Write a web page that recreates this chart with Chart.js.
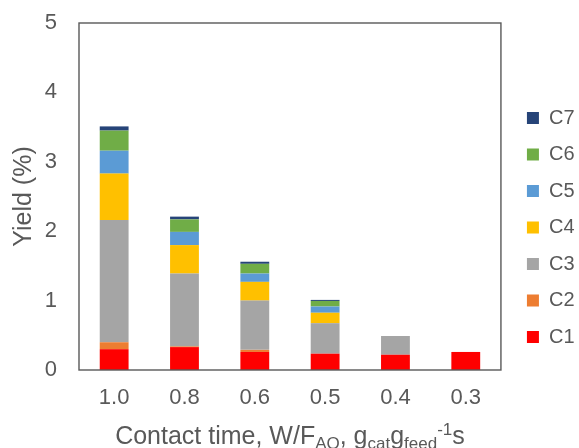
<!DOCTYPE html>
<html>
<head>
<meta charset="utf-8">
<script src="https://cdn.jsdelivr.net/npm/chart.js@4.4.1/dist/chart.umd.min.js"></script>
<style>
  html, body { margin: 0; padding: 0; background: #fff; }
  #wrap { width: 579px; height: 448px; }
</style>
</head>
<body>
<div id="wrap"><canvas id="mycanvas" width="579" height="448"></canvas></div>
<script>
// contact time categories and yields (%)
var contactTime = ['1.0', '0.8', '0.6', '0.5', '0.4', '0.3'];
var c1 = [0.30, 0.33, 0.26, 0.235, 0.22, 0.26];
var c2 = [0.10, 0.01, 0.03, 0, 0, 0];
var c3 = [1.76, 1.05, 0.71, 0.44, 0.27, 0];
var c4 = [0.67, 0.41, 0.27, 0.15, 0, 0];
var c5 = [0.33, 0.19, 0.12, 0.09, 0, 0];
var c6 = [0.29, 0.18, 0.14, 0.08, 0, 0];
var c7 = [0.06, 0.04, 0.03, 0.015, 0, 0];
var yTicks = [0, 1, 2, 3, 4, 5];

var FONT = "'Liberation Sans', Arial, sans-serif";
var GREY = '#595959';

// frame, legend nudge and the x title with sub/superscripts
var extras = {
	id: 'extras',
	beforeDraw: function(chart) {
		var lg = chart.legend;
		if (lg && !lg._nudged) {
			lg.left += 9.5; lg.right += 9.5;
			lg.top += 3.5; lg.bottom += 3.5;
			lg._nudged = true;
		}
	},
	afterDatasetsDraw: function(chart) {
		var ctx = chart.ctx, a = chart.chartArea;
		ctx.save();
		ctx.strokeStyle = GREY;
		ctx.lineWidth = 1.4;
		ctx.strokeRect(a.left, a.top, a.right - a.left, a.bottom - a.top);
		ctx.restore();
	},
	afterDraw: function(chart) {
		var ctx = chart.ctx, a = chart.chartArea;
		var big = 25, small = 17;
		var parts = [
			{t: 'Contact time, W/F', s: big, dy: 0},
			{t: 'AO', s: small, dy: 5},
			{t: ', g', s: big, dy: 0},
			{t: 'cat', s: small, dy: 5},
			{t: 'g', s: big, dy: 0},
			{t: 'feed', s: small, dy: 5},
			{t: '-1', s: small, dy: -9},
			{t: 's', s: big, dy: 0}
		];
		ctx.save();
		ctx.fillStyle = GREY;
		ctx.textBaseline = 'alphabetic';
		ctx.textAlign = 'left';
		var total = 0;
		parts.forEach(function(p) {
			ctx.font = p.s + 'px ' + FONT;
			p.w = ctx.measureText(p.t).width;
			total += p.w;
		});
		var x = (a.left + a.right) / 2 - total / 2;
		var base = 444;
		parts.forEach(function(p) {
			ctx.font = p.s + 'px ' + FONT;
			ctx.fillText(p.t, x, base + p.dy);
			x += p.w;
		});
		ctx.restore();
	}
};

var chartdata = {
	labels: contactTime,
	datasets: [
		{ label: 'C1', data: c1, backgroundColor: '#FF0000' },
		{ label: 'C2', data: c2, backgroundColor: '#ED7D31' },
		{ label: 'C3', data: c3, backgroundColor: '#A5A5A5' },
		{ label: 'C4', data: c4, backgroundColor: '#FFC000' },
		{ label: 'C5', data: c5, backgroundColor: '#5B9BD5' },
		{ label: 'C6', data: c6, backgroundColor: '#70AD47' },
		{ label: 'C7', data: c7, backgroundColor: '#264478' }
	]
};

var ctx = document.getElementById('mycanvas');

var barGraph = new Chart(ctx, {
	type: 'bar',
	data: chartdata,
	plugins: [extras],
	options: {
		responsive: false,
		animation: false,
		layout: { padding: { top: 0, right: 4, bottom: 0, left: 0 } },
		datasets: { bar: { categoryPercentage: 1, barPercentage: 0.41 } },
		plugins: {
			tooltip: { enabled: false },
			legend: {
				position: 'right',
				reverse: true,
				labels: {
					boxWidth: 12,
					boxHeight: 12,
					padding: 16.5,
					color: GREY,
					font: { family: FONT, size: 20 }
				}
			}
		},
		scales: {
			x: {
				stacked: true,
				grid: { display: false, drawTicks: false },
				border: { display: false },
				ticks: { color: GREY, padding: 15, font: { family: FONT, size: 22 } },
				afterFit: function(scale) { scale.height = 78; }
			},
			y: {
				stacked: true,
				min: 0,
				max: 5,
				afterBuildTicks: function(scale) {
					scale.ticks = yTicks.map(function(v) { return { value: v }; });
				},
				grid: { display: false, drawTicks: false },
				border: { display: false },
				ticks: { color: GREY, padding: 22, font: { family: FONT, size: 22 } },
				title: {
					display: true,
					text: 'Yield (%)',
					color: GREY,
					padding: { top: 9, bottom: 6 },
					font: { family: FONT, size: 25 }
				},
				afterFit: function(scale) {
					scale.width = 79;
					scale.paddingTop = 23;
					scale.paddingBottom = 0;
				}
			}
		}
	}
});
</script>
</body>
</html>
